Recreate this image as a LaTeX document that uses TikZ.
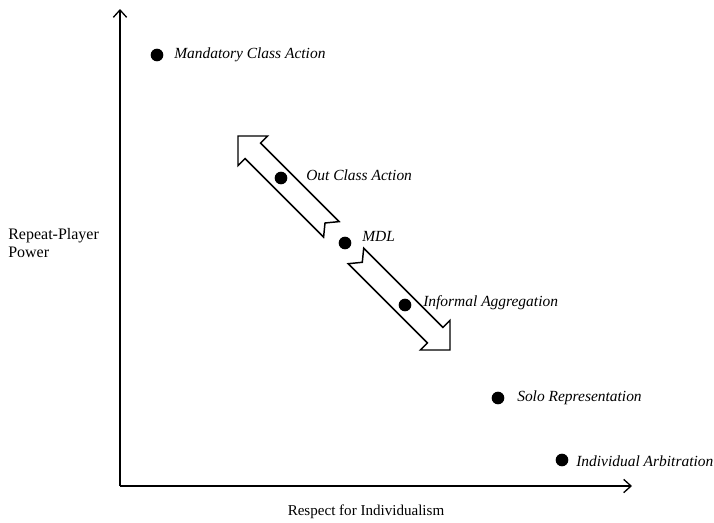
\documentclass[tikz,border=0pt]{standalone}
\usepackage{fontspec}
\setmainfont{Liberation Serif}
\usetikzlibrary{arrows.meta}
\begin{document}
\begin{tikzpicture}[x=0.75pt,y=-0.75pt,
  axis/.style={line width=1pt,-{Straight Barb[length=5.5pt,width=10pt,line width=1pt]}},
  blockarrow/.style={draw,fill=white,line width=1.1pt,line join=miter},
  dot/.style={circle,fill=black,inner sep=0pt,minimum size=9.5pt},
  lbl/.style={anchor=west,inner sep=0pt,font=\fontsize{11.6}{14}\selectfont\itshape},
  axlbl/.style={inner sep=0pt,font=\fontsize{12}{13.8}\selectfont}]
\useasboundingbox (0,0) rectangle (714,522);
% axes
\coordinate (origin) at (120,486);
\coordinate (ytip) at (120,9);
\coordinate (xtip) at (632,486);
\draw[axis] (origin) -- (ytip);
\draw[axis] (origin) -- (xtip);
% block arrows
\draw[blockarrow] (238,136) -- (267.7,136) -- (260.6,143.1) -- (339.1,221.6)
  -- (325,223) -- (323.6,237.1) -- (245.1,158.6) -- (238,165.7) -- cycle;
\draw[blockarrow] (450,350) -- (420.3,350) -- (427.4,342.9) -- (348.2,263.7)
  -- (362.3,262.3) -- (363.7,248.2) -- (442.9,327.4) -- (450,320.3) -- cycle;
% dots
\node[dot] (mca) at (157,55) {};
\node[dot] (oca) at (281,178) {};
\node[dot] (mdl) at (345,243) {};
\node[dot] (ia) at (405,305) {};
\node[dot] (sr) at (498,398) {};
\node[dot] (iarb) at (562,460) {};
% labels
\node[lbl] (mcal) at (174,55) {Mandatory Class Action};
\node[lbl] (ocal) at (306,175) {Out Class Action};
\node[lbl] (mdll) at (362,236) {MDL};
\node[lbl] (ial) at (423,303) {Informal Aggregation};
\node[lbl] (srl) at (517,398) {Solo Representation};
\node[lbl] (iarbl) at (576,461) {Individual Arbitration};
% axis labels
\node[axlbl,anchor=west,align=left] (ylbl) at (8,243) {Repeat-Player\\Power};
\node[axlbl,font=\fontsize{11.3}{13}\selectfont] (xlbl) at (366,512) {Respect for Individualism};
\end{tikzpicture}
\end{document}
